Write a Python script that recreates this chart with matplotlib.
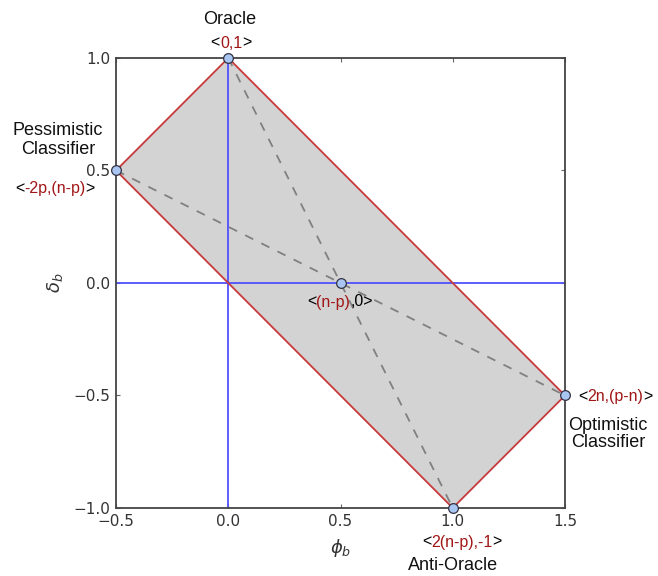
import matplotlib
matplotlib.use("Agg")
import matplotlib.pyplot as plt

# Data
rect_x = [0.0, 1.5, 1.0, -0.5, 0.0]
rect_y = [1.0, -0.5, -1.0, 0.5, 1.0]
diag1_x = [0.0, 1.0]; diag1_y = [1.0, -1.0]
diag2_x = [-0.5, 1.5]; diag2_y = [0.5, -0.5]
pts_x = [0.0, -0.5, 0.5, 1.5, 1.0]
pts_y = [1.0, 0.5, 0.0, -0.5, -1.0]
xticks = [-0.5, 0.0, 0.5, 1.0, 1.5]
yticks = [-1.0, -0.5, 0.0, 0.5, 1.0]

fig = plt.figure(figsize=(6.58, 5.76), dpi=100)
ax = fig.add_axes([0.1763, 0.1181, 0.6824, 0.7812])
ax.fill(rect_x, rect_y, facecolor="#d3d3d3", edgecolor="none", zorder=1)
ax.plot(rect_x, rect_y, color="#c8393b", lw=1.3, zorder=3)
ax.plot(diag1_x, diag1_y, color="#808080", lw=1.3, ls=(0, (5, 5)), zorder=2)
ax.plot(diag2_x, diag2_y, color="#808080", lw=1.3, ls=(0, (5, 5)), zorder=2)
ax.plot([0, 0], [-1, 1], color="#5050ff", lw=1.3, zorder=2.5)
ax.plot([-0.5, 1.5], [0, 0], color="#5050ff", lw=1.3, zorder=2.5)
ax.plot(pts_x, pts_y, ls="none", marker="o", ms=7, mfc="#a9c6f2", mec="#333344", mew=0.9,
        zorder=5, clip_on=False)
ax.set_xlim(-0.5, 1.5)
ax.set_ylim(-1.0, 1.0)
ax.set_xticks(xticks)
ax.set_yticks(yticks)
ax.tick_params(direction="in", length=3, width=0.8, color="#666666", labelsize=11,
               labelcolor="#333333", pad=4, top=True, right=True)
for s in ax.spines.values():
    s.set_color("#444444")
    s.set_linewidth(1.3)
ax.set_xlabel(r"$\phi_b$", fontsize=13, color="#333333", labelpad=6)
ax.set_ylabel(r"$\delta_b$", fontsize=13, color="#333333", labelpad=6)

fig.canvas.draw()
renderer = fig.canvas.get_renderer()
FONT = "Liberation Sans"
RED = "#a01515"

def multi(xpix, ypix, pieces, size=11.5):
    texts = []
    widths = []
    for s, c in pieces:
        t = fig.text(0, 0, s, color=c, fontsize=size, family=FONT, ha="left", va="center")
        w = t.get_window_extent(renderer).width
        texts.append(t); widths.append(w)
    total = sum(widths)
    x = xpix - total / 2
    W, H = fig.bbox.width, fig.bbox.height
    for t, w in zip(texts, widths):
        t.set_position((x / W, 1 - ypix / H))
        x += w

def label(xpix, ypix, s, size=13, ls=1.2):
    fig.text(xpix / 658, 1 - ypix / 576, s, fontsize=size, family=FONT, ha="center",
             va="center", color="#111111", linespacing=ls)

label(230, 20, "Oracle")
multi(231, 43, [("<", "black"), ("0,1", RED), (">", "black")])
label(58, 140, "Pessimistic\nClassifier")
multi(55, 189, [("<", "black"), ("-2p,(n-p)", RED), (">", "black")])
multi(340, 302, [("<", "black"), ("(n-p)", RED), (",0>", "black")])
multi(615, 397, [("<", "black"), ("2n,(p-n)", RED), (">", "black")])
label(608, 434, "Optimistic\nClassifier", ls=1.05)
multi(462, 542, [("<", "black"), ("2(n-p),-1", RED), (">", "black")])
label(453, 565, "Anti-Oracle")

fig.savefig("out.png", dpi=100)
